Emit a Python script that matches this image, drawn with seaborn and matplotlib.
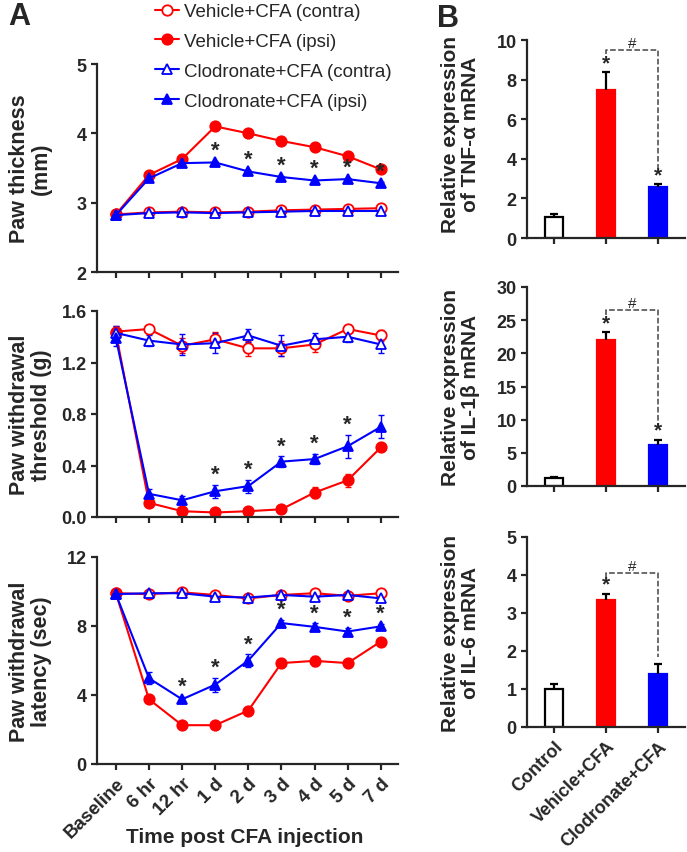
import numpy as np
import pandas as pd
import matplotlib
matplotlib.use('Agg')
import matplotlib.pyplot as plt
import seaborn as sns

# === Данные ===
times = ['Baseline', '6 hr', '12 hr', '1 d', '2 d', '3 d', '4 d', '5 d', '7 d']
series_names = ['Vehicle+CFA (contra)', 'Vehicle+CFA (ipsi)',
                'Clodronate+CFA (contra)', 'Clodronate+CFA (ipsi)']

# Paw thickness (mm)
thick_veh_contra = [2.83, 2.86, 2.87, 2.86, 2.87, 2.89, 2.90, 2.91, 2.92]
thick_veh_ipsi = [2.83, 3.40, 3.63, 4.10, 4.00, 3.89, 3.80, 3.67, 3.48]
thick_clo_contra = [2.82, 2.85, 2.86, 2.85, 2.86, 2.87, 2.88, 2.88, 2.88]
thick_clo_ipsi = [2.82, 3.35, 3.57, 3.58, 3.45, 3.37, 3.32, 3.34, 3.28]
thick_err = [0.02] * 9
thick_stars = [3, 4, 5, 6, 7, 8]

# Paw withdrawal threshold (g)
thr_veh_contra = [1.44, 1.46, 1.33, 1.38, 1.31, 1.31, 1.34, 1.46, 1.41]
thr_veh_ipsi = [1.43, 0.11, 0.045, 0.035, 0.045, 0.06, 0.19, 0.285, 0.54]
thr_clo_contra = [1.43, 1.37, 1.34, 1.35, 1.41, 1.33, 1.38, 1.40, 1.34]
thr_clo_ipsi = [1.39, 0.18, 0.13, 0.20, 0.24, 0.43, 0.45, 0.55, 0.70]
thr_veh_contra_err = [0.04, 0.03, 0.06, 0.06, 0.06, 0.06, 0.06, 0.03, 0.04]
thr_veh_ipsi_err = [0.04, 0.02, 0.02, 0.02, 0.02, 0.02, 0.04, 0.05, 0.02]
thr_clo_contra_err = [0.05, 0.04, 0.08, 0.08, 0.05, 0.08, 0.05, 0.04, 0.07]
thr_clo_ipsi_err = [0.06, 0.04, 0.03, 0.05, 0.05, 0.04, 0.04, 0.09, 0.09]
thr_stars = [3, 4, 5, 6, 7]

# Paw withdrawal latency (sec)
lat_veh_contra = [9.9, 9.85, 9.95, 9.8, 9.6, 9.8, 9.9, 9.75, 9.9]
lat_veh_ipsi = [9.9, 3.75, 2.25, 2.25, 3.1, 5.85, 5.98, 5.85, 7.1]
lat_clo_contra = [9.85, 9.9, 9.9, 9.7, 9.65, 9.8, 9.7, 9.8, 9.6]
lat_clo_ipsi = [9.85, 4.97, 3.75, 4.6, 6.0, 8.17, 7.95, 7.68, 7.98]
lat_veh_contra_err = [0.1] * 9
lat_veh_ipsi_err = [0.1, 0.1, 0.1, 0.1, 0.15, 0.1, 0.3, 0.1, 0.1]
lat_clo_contra_err = [0.1] * 9
lat_clo_ipsi_err = [0.1, 0.35, 0.15, 0.4, 0.35, 0.2, 0.2, 0.2, 0.15]
lat_stars = [2, 3, 4, 5, 6, 7, 8]

# Bars: relative mRNA expression
groups = ['Control', 'Vehicle+CFA', 'Clodronate+CFA']
tnf = [1.05, 7.5, 2.6]
tnf_err = [0.15, 0.88, 0.12]
il1b = [1.15, 22.0, 6.2]
il1b_err = [0.15, 1.2, 0.8]
il6 = [1.0, 3.34, 1.39]
il6_err = [0.12, 0.17, 0.28]

RED = '#ff0000'
BLUE = '#0000ff'

sns.set_style('ticks')
plt.rcParams['font.family'] = ['Liberation Sans', 'DejaVu Sans']
plt.rcParams['axes.linewidth'] = 1.6
plt.rcParams['xtick.major.width'] = 1.6
plt.rcParams['ytick.major.width'] = 1.6
plt.rcParams['xtick.major.size'] = 4
plt.rcParams['ytick.major.size'] = 4

W, H = 687, 853
fig = plt.figure(figsize=(W / 100, H / 100), dpi=100)


def px_axes(x0, y0, x1, y1):
    return fig.add_axes([x0 / W, 1 - y1 / H, (x1 - x0) / W, (y1 - y0) / H])


ax_thick = px_axes(97, 65, 398, 273)
ax_thr = px_axes(97, 312, 398, 518)
ax_lat = px_axes(97, 558, 398, 765)
ax_tnf = px_axes(527, 41, 685, 239)
ax_il1b = px_axes(527, 288, 685, 487)
ax_il6 = px_axes(527, 538, 685, 728)

xpos = np.arange(len(times))
styles = [
    dict(color=RED, marker='o', markerfacecolor='white'),
    dict(color=RED, marker='o', markerfacecolor=RED),
    dict(color=BLUE, marker='^', markerfacecolor='white'),
    dict(color=BLUE, marker='^', markerfacecolor=BLUE),
]


def line_panel(ax, values, errors, stars, ylim, yticks, ylabel, star_gap):
    for name, vals, errs, st in zip(series_names, values, errors, styles):
        df = pd.DataFrame({'x': xpos, 'y': vals})
        sns.lineplot(data=df, x='x', y='y', ax=ax, color=st['color'],
                     marker=st['marker'], markersize=7.5,
                     markerfacecolor=st['markerfacecolor'],
                     markeredgecolor=st['color'], markeredgewidth=1.3,
                     linewidth=1.5, errorbar=None, legend=False, label=name)
        ax.errorbar(xpos, vals, yerr=errs, fmt='none', ecolor=st['color'],
                    elinewidth=1.0, capsize=2.5, capthick=1.0, zorder=1)
    top = np.array(values[3]) + np.array(errors[3])
    for i in stars:
        ax.text(xpos[i], top[i] + star_gap, '*', ha='center', va='bottom',
                fontsize=16, fontweight='bold')
    ax.set_xlim(-0.57, 8.52)
    ax.set_ylim(*ylim)
    ax.set_yticks(yticks)
    ax.set_xticks(xpos)
    ax.set_xlabel('')
    ax.set_ylabel(ylabel, fontsize=15.5, fontweight='bold', linespacing=1.05)
    ax.yaxis.set_label_coords(-0.15, 0.5)
    ax.tick_params(labelsize=13)
    sns.despine(ax=ax)


line_panel(ax_thick,
           [thick_veh_contra, thick_veh_ipsi, thick_clo_contra, thick_clo_ipsi],
           [thick_err] * 4, thick_stars, (2, 5), [2, 3, 4, 5],
           'Paw thickness\n(mm)', 0.0)
ax_thick.set_yticklabels(['2', '3', '4', '5'], fontweight='bold')
ax_thick.set_xticklabels([])

line_panel(ax_thr,
           [thr_veh_contra, thr_veh_ipsi, thr_clo_contra, thr_clo_ipsi],
           [thr_veh_contra_err, thr_veh_ipsi_err, thr_clo_contra_err, thr_clo_ipsi_err],
           thr_stars, (0, 1.6), [0, 0.4, 0.8, 1.2, 1.6],
           'Paw withdrawal\nthreshold (g)', 0.0)
ax_thr.set_yticklabels(['0.0', '0.4', '0.8', '1.2', '1.6'], fontweight='bold')
ax_thr.set_xticklabels([])

line_panel(ax_lat,
           [lat_veh_contra, lat_veh_ipsi, lat_clo_contra, lat_clo_ipsi],
           [lat_veh_contra_err, lat_veh_ipsi_err, lat_clo_contra_err, lat_clo_ipsi_err],
           lat_stars, (0, 12), [0, 4, 8, 12],
           'Paw withdrawal\nlatency (sec)', 0.0)
ax_lat.set_yticklabels(['0', '4', '8', '12'], fontweight='bold')
ax_lat.set_xticklabels(times, rotation=45, ha='right', rotation_mode='anchor',
                       fontsize=13.5, fontweight='bold')
fig.text(245 / W, 1 - 838 / H, 'Time post CFA injection', ha='center', va='center',
         fontsize=15, fontweight='bold')

handles, labels = ax_thick.get_legend_handles_labels()
fig.legend(handles, labels, loc='upper left', bbox_to_anchor=(155 / W, 1 - 4 / H),
           frameon=False, fontsize=13.5, handlelength=1.3, handletextpad=0.25,
           labelspacing=0.68, borderpad=0, borderaxespad=0)


def bar_panel(ax, vals, errs, ymax, yticks, ylabel, star_idx, bracket, label_y):
    df = pd.DataFrame({'group': groups, 'value': vals})
    sns.barplot(data=df, x='group', y='value', hue='group',
                palette=['white', RED, BLUE], width=0.33, saturation=1,
                legend=False, ax=ax, zorder=2)
    for patch, ec in zip(ax.patches, ['black', RED, BLUE]):
        patch.set_edgecolor(ec)
        patch.set_linewidth(1.6)
    eb = ax.errorbar(np.arange(3), vals, yerr=[np.zeros(3), errs], fmt='none',
                     ecolor='black', elinewidth=1.6, capsize=3, capthick=1.6,
                     zorder=3)
    eb[1][0].set_visible(False)
    for i in star_idx:
        ax.text(i, vals[i] + errs[i], '*', ha='center', va='bottom',
                fontsize=15, fontweight='bold')
    level, left_end, right_end = bracket
    ax.plot([1, 1, 2, 2], [left_end, level, level, right_end], ls='--',
            color='#444444', lw=1.1, zorder=1)
    ax.text(1.5, level, '#', ha='center', va='bottom', fontsize=11)
    ax.set_xlim(-0.52, 2.52)
    ax.set_ylim(0, ymax)
    ax.set_yticks(yticks)
    ax.set_yticklabels([str(t) for t in yticks], fontweight='bold')
    ax.tick_params(labelsize=13)
    ax.set_xlabel('')
    ax.set_ylabel(ylabel, fontsize=15, fontweight='bold', linespacing=1.05)
    ax.yaxis.set_label_coords(-0.30, label_y)
    sns.despine(ax=ax)


bar_panel(ax_tnf, tnf, tnf_err, 10, [0, 2, 4, 6, 8, 10],
          'Relative expression\nof TNF-α mRNA', [1, 2], (9.5, 9.28, 3.56), 0.53)
ax_tnf.set_xticklabels([])
bar_panel(ax_il1b, il1b, il1b_err, 30, [0, 5, 10, 15, 20, 25, 30],
          'Relative expression\nof IL-1β mRNA', [1, 2], (26.6, 25.8, 9.1), 0.5)
ax_il1b.set_xticklabels([])
bar_panel(ax_il6, il6, il6_err, 5, [0, 1, 2, 3, 4, 5],
          'Relative expression\nof IL-6 mRNA', [1], (4.04, 3.92, 1.85), 0.5)
ax_il6.set_xticklabels(groups, rotation=45, ha='right', rotation_mode='anchor',
                       fontsize=13, fontweight='bold')

fig.text(8 / W, 1 - 2 / H, 'A', fontsize=22, fontweight='bold', va='top')
fig.text(437 / W, 1 - 4 / H, 'B', fontsize=22, fontweight='bold', va='top')

fig.savefig('out.png', dpi=100)
